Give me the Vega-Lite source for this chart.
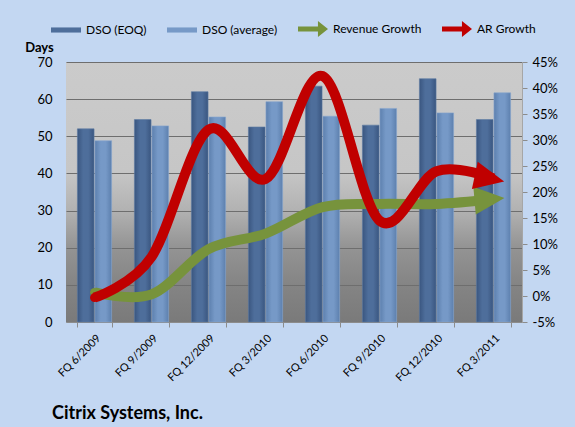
{
  "$schema": "https://vega.github.io/schema/vega-lite/v6.json",
  "width": 456,
  "height": 260,
  "autosize": {"type": "none"},
  "padding": {"left": 66, "top": 62, "right": 53, "bottom": 105},
  "background": "#c3d7f2",
  "config": {
    "font": "Lato",
    "view": {
      "stroke": null,
      "fill": {
        "gradient": "linear", "x1": 0, "y1": 0, "x2": 0, "y2": 1,
        "stops": [
          {"offset": 0, "color": "#cbcbcb"},
          {"offset": 0.42, "color": "#c6c6c6"},
          {"offset": 0.57, "color": "#b2b2b2"},
          {"offset": 0.71, "color": "#949494"},
          {"offset": 0.86, "color": "#848484"},
          {"offset": 1, "color": "#7a7a7a"}
        ]
      }
    },
    "axis": {"labelFont": "Lato", "titleFont": "Lato", "labelColor": "#000000", "titleColor": "#000000"},
    "legend": {
      "orient": "none",
      "legendX": -15,
      "legendY": -48,
      "direction": "horizontal",
      "symbolSize": 900,
      "symbolStrokeWidth": 0,
      "labelFont": "Lato",
      "labelFontSize": 12,
      "labelColor": "#000000",
      "labelOffset": 5,
      "columnPadding": 20
    }
  },
  "title": {
    "text": "Citrix Systems, Inc.",
    "orient": "bottom",
    "anchor": "start",
    "frame": "group",
    "font": "Lato",
    "fontSize": 18,
    "fontWeight": "bold",
    "color": "#000000",
    "dx": -14,
    "offset": 22
  },
  "data": {
    "values": [
      {"quarter": "FQ 6/2009", "series": "DSO (EOQ)", "value": 52},
      {"quarter": "FQ 9/2009", "series": "DSO (EOQ)", "value": 54.5},
      {"quarter": "FQ 12/2009", "series": "DSO (EOQ)", "value": 62},
      {"quarter": "FQ 3/2010", "series": "DSO (EOQ)", "value": 52.5},
      {"quarter": "FQ 6/2010", "series": "DSO (EOQ)", "value": 63.5},
      {"quarter": "FQ 9/2010", "series": "DSO (EOQ)", "value": 53},
      {"quarter": "FQ 12/2010", "series": "DSO (EOQ)", "value": 65.5},
      {"quarter": "FQ 3/2011", "series": "DSO (EOQ)", "value": 54.5},
      {"quarter": "FQ 6/2009", "series": "DSO (average)", "value": 48.8},
      {"quarter": "FQ 9/2009", "series": "DSO (average)", "value": 52.8},
      {"quarter": "FQ 12/2009", "series": "DSO (average)", "value": 55.2},
      {"quarter": "FQ 3/2010", "series": "DSO (average)", "value": 59.3},
      {"quarter": "FQ 6/2010", "series": "DSO (average)", "value": 55.4},
      {"quarter": "FQ 9/2010", "series": "DSO (average)", "value": 57.5},
      {"quarter": "FQ 12/2010", "series": "DSO (average)", "value": 56.3},
      {"quarter": "FQ 3/2011", "series": "DSO (average)", "value": 61.7},
      {"quarter": "FQ 6/2009", "series": "Revenue Growth", "value": 0.007},
      {"quarter": "FQ 9/2009", "series": "Revenue Growth", "value": 0.003},
      {"quarter": "FQ 12/2009", "series": "Revenue Growth", "value": 0.09},
      {"quarter": "FQ 3/2010", "series": "Revenue Growth", "value": 0.12},
      {"quarter": "FQ 6/2010", "series": "Revenue Growth", "value": 0.171},
      {"quarter": "FQ 9/2010", "series": "Revenue Growth", "value": 0.177},
      {"quarter": "FQ 12/2010", "series": "Revenue Growth", "value": 0.177},
      {"quarter": "FQ 3/2011", "series": "Revenue Growth", "value": 0.186},
      {"quarter": "FQ 6/2009", "series": "AR Growth", "value": -0.003},
      {"quarter": "FQ 9/2009", "series": "AR Growth", "value": 0.075},
      {"quarter": "FQ 12/2009", "series": "AR Growth", "value": 0.32},
      {"quarter": "FQ 3/2010", "series": "AR Growth", "value": 0.225},
      {"quarter": "FQ 6/2010", "series": "AR Growth", "value": 0.423},
      {"quarter": "FQ 9/2010", "series": "AR Growth", "value": 0.145},
      {"quarter": "FQ 12/2010", "series": "AR Growth", "value": 0.24},
      {"quarter": "FQ 3/2011", "series": "AR Growth", "value": 0.226}
    ]
  },
  "encoding": {
    "x": {
      "field": "quarter",
      "type": "nominal",
      "scale": {
        "domain": ["FQ 6/2009", "FQ 9/2009", "FQ 12/2009", "FQ 3/2010", "FQ 6/2010", "FQ 9/2010", "FQ 12/2010", "FQ 3/2011"],
        "paddingInner": 0.4,
        "paddingOuter": 0.2
      },
      "axis": {
        "title": null,
        "labelAngle": -45,
        "labelFontSize": 11,
        "tickBand": "extent",
        "tickSize": 5,
        "tickColor": "#8c8c8c",
        "domainColor": "#8c8c8c",
        "grid": false,
        "labelPadding": 5
      }
    }
  },
  "layer": [
    {
      "encoding": {
        "y": {
          "field": "value",
          "type": "quantitative",
          "scale": {"domain": [0, 70], "nice": false, "zero": false},
          "axis": {
            "title": "Days",
            "titleAngle": 0,
            "titleX": -27,
            "titleY": -11,
            "titleAlign": "center",
            "titleBaseline": "alphabetic",
            "titleFontSize": 13,
            "titleFontWeight": "bold",
            "values": [0, 10, 20, 30, 40, 50, 60, 70],
            "grid": true,
            "gridColor": "#6e6e6e",
            "gridWidth": 1,
            "ticks": false,
            "domain": false,
            "labelFontSize": 13,
            "labelPadding": 14
          }
        },
        "xOffset": {
          "field": "series",
          "type": "nominal",
          "scale": {"domain": ["DSO (EOQ)", "DSO (average)"], "paddingInner": 0.05}
        }
      },
      "layer": [
        {
          "transform": [{"filter": "datum.series === 'DSO (EOQ)'"}],
          "mark": {
            "type": "bar",
            "stroke": "#5d7aa3",
            "strokeWidth": 0.6,
            "fill": {
              "gradient": "linear", "x1": 0, "y1": 0, "x2": 1, "y2": 0,
              "stops": [
                {"offset": 0, "color": "#3a5680"},
                {"offset": 0.35, "color": "#4e6e9b"},
                {"offset": 0.65, "color": "#4e6e9b"},
                {"offset": 1, "color": "#3a5680"}
              ]
            }
          }
        },
        {
          "transform": [{"filter": "datum.series === 'DSO (average)'"}],
          "mark": {
            "type": "bar",
            "stroke": "#86a6cf",
            "strokeWidth": 0.6,
            "fill": {
              "gradient": "linear", "x1": 0, "y1": 0, "x2": 1, "y2": 0,
              "stops": [
                {"offset": 0, "color": "#5d80ae"},
                {"offset": 0.35, "color": "#7699c7"},
                {"offset": 0.65, "color": "#7699c7"},
                {"offset": 1, "color": "#5d80ae"}
              ]
            }
          }
        }
      ]
    },
    {
      "encoding": {
        "y": {
          "field": "value",
          "type": "quantitative",
          "scale": {"domain": [-0.05, 0.45], "nice": false, "zero": false},
          "axis": {
            "orient": "right",
            "title": null,
            "format": ".0%",
            "labelExpr": "replace(datum.label, '\u2212', '-')",
            "values": [-0.05, 0, 0.05, 0.1, 0.15, 0.2, 0.25, 0.3, 0.35, 0.4, 0.45],
            "grid": false,
            "tickSize": 5,
            "tickColor": "#8c8c8c",
            "domainColor": "#a6a6a6",
            "labelFontSize": 13,
            "labelPadding": 5
          }
        }
      },
      "layer": [
        {
          "transform": [{"filter": "datum.series === 'Revenue Growth'"}],
          "mark": {"type": "line", "interpolate": "cardinal", "strokeWidth": 10, "color": "#77933c", "strokeCap": "butt"},
          "encoding": {"order": {"value": null}}
        },
        {
          "transform": [{"filter": "datum.series === 'Revenue Growth' && datum.quarter === 'FQ 6/2009'"}],
          "mark": {"type": "point", "shape": "circle", "filled": true, "opacity": 1, "size": 79, "color": "#77933c", "strokeWidth": 0}
        },
        {
          "transform": [{"filter": "datum.series === 'AR Growth'"}],
          "mark": {"type": "line", "interpolate": "cardinal", "strokeWidth": 10, "color": "#c00000", "strokeCap": "butt"},
          "encoding": {"order": {"value": null}}
        },
        {
          "transform": [{"filter": "datum.series === 'AR Growth' && datum.quarter === 'FQ 6/2009'"}],
          "mark": {"type": "point", "shape": "circle", "filled": true, "opacity": 1, "size": 79, "color": "#c00000", "strokeWidth": 0}
        },
        {
          "transform": [{"filter": "datum.series === 'Revenue Growth' && datum.quarter === 'FQ 3/2011'"}],
          "mark": {
            "type": "point",
            "shape": "M-1,-0.93L1,0L-1,0.93Z",
            "filled": true,
            "opacity": 1,
            "size": 900,
            "strokeWidth": 0,
            "xOffset": -4,
            "angle": -5,
            "color": "#77933c"
          }
        },
        {
          "transform": [{"filter": "datum.series === 'AR Growth' && datum.quarter === 'FQ 3/2011'"}],
          "mark": {
            "type": "point",
            "shape": "M-1,-0.93L1,0L-1,0.93Z",
            "filled": true,
            "opacity": 1,
            "size": 900,
            "strokeWidth": 0,
            "xOffset": -4,
            "angle": 12,
            "color": "#c00000"
          }
        },
        {
          "transform": [{"filter": "datum.quarter === 'none'"}],
          "mark": {"type": "point", "filled": true, "opacity": 1, "strokeWidth": 0},
          "encoding": {
            "color": {
              "field": "series",
              "type": "nominal",
              "scale": {
                "domain": ["DSO (EOQ)", "DSO (average)", "Revenue Growth", "AR Growth"],
                "range": ["#4e6e9b", "#7699c7", "#77933c", "#c00000"]
              },
              "legend": {"title": null}
            },
            "shape": {
              "field": "series",
              "type": "nominal",
              "scale": {
                "domain": ["DSO (EOQ)", "DSO (average)", "Revenue Growth", "AR Growth"],
                "range": [
                  "M-1,-0.17L1,-0.17L1,0.17L-1,0.17Z",
                  "M-1,-0.17L1,-0.17L1,0.17L-1,0.17Z",
                  "M-1,-0.17L0.33,-0.17L0.33,-0.53L1,0L0.33,0.53L0.33,0.17L-1,0.17Z",
                  "M-1,-0.17L0.33,-0.17L0.33,-0.53L1,0L0.33,0.53L0.33,0.17L-1,0.17Z"
                ]
              },
              "legend": {"title": null}
            }
          }
        }
      ]
    }
  ],
  "resolve": {"scale": {"y": "independent"}}
}
